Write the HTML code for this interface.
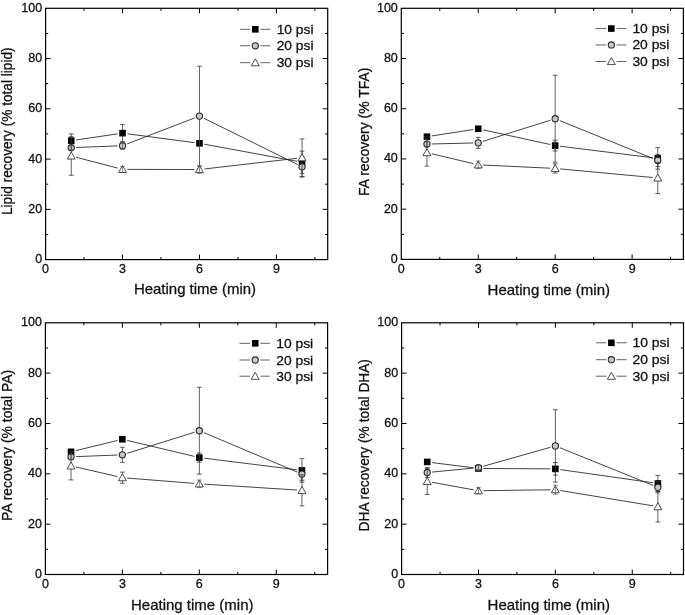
<!DOCTYPE html>
<html lang="en">
<head>
<meta charset="utf-8">
<title>Recovery vs heating time</title>
<style>
html,body{margin:0;padding:0;background:#fff;}
body{width:685px;height:615px;overflow:hidden;}
svg{display:block;}
svg text{font-family:"Liberation Sans", Arial, Helvetica, sans-serif;fill:#111;stroke:#111;stroke-width:0.28px;}
svg{filter:blur(0.4px);}
</style>
</head>
<body>
<svg width="685" height="615" viewBox="0 0 685 615">
<rect width="685" height="615" fill="#fff"/>
<g><path d="M45.6 234.47h2.6M327.7 234.47h-2.6M45.6 209.34h5M327.7 209.34h-5M45.6 184.21h2.6M327.7 184.21h-2.6M45.6 159.08h5M327.7 159.08h-5M45.6 133.95h2.6M327.7 133.95h-2.6M45.6 108.82h5M327.7 108.82h-5M45.6 83.69h2.6M327.7 83.69h-2.6M45.6 58.56h5M327.7 58.56h-5M45.6 33.43h2.6M327.7 33.43h-2.6M84.07 259.6v-2.6M84.07 8.3v2.6M122.54 259.6v-5M122.54 8.3v5M161 259.6v-2.6M161 8.3v2.6M199.47 259.6v-5M199.47 8.3v5M237.94 259.6v-2.6M237.94 8.3v2.6M276.41 259.6v-5M276.41 8.3v5M314.88 259.6v-2.6M314.88 8.3v2.6" fill="none" stroke="#000" stroke-width="1"/>
<text x="42.1" y="263.1" text-anchor="end" font-size="12.5">0</text>
<text x="42.1" y="212.84" text-anchor="end" font-size="12.5">20</text>
<text x="42.1" y="162.58" text-anchor="end" font-size="12.5">40</text>
<text x="42.1" y="112.32" text-anchor="end" font-size="12.5">60</text>
<text x="42.1" y="62.06" text-anchor="end" font-size="12.5">80</text>
<text x="42.1" y="11.8" text-anchor="end" font-size="12.5">100</text>
<text x="45.6" y="273" text-anchor="middle" font-size="12.5">0</text>
<text x="122.54" y="273" text-anchor="middle" font-size="12.5">3</text>
<text x="199.47" y="273" text-anchor="middle" font-size="12.5">6</text>
<text x="276.41" y="273" text-anchor="middle" font-size="12.5">9</text>
<text x="133.9" y="294.4" font-size="14.5" textLength="122.2" lengthAdjust="spacingAndGlyphs">Heating time (min)</text>
<text transform="translate(12.3 215) rotate(-90)" font-size="14" textLength="167.6" lengthAdjust="spacingAndGlyphs">Lipid recovery (% total lipid)</text>
<path d="M76.19 139.95L117.59 133.87M127.49 133.8L194.52 142.65M204.39 144.21L297.14 161.33" fill="none" stroke="#222" stroke-width="0.85"/>
<path d="M71.25 133.9V147.44M68.85 133.9h4.8M68.85 147.44h4.8M122.54 124.62V141.68M120.14 124.62h4.8M120.14 141.68h4.8M302.05 151.08V173.4M299.65 151.08h4.8M299.65 173.4h4.8" fill="none" stroke="#3a3a3a" stroke-width="0.8"/>
<rect x="67.95" y="137.37" width="6.6" height="6.6" fill="#000"/>
<rect x="119.24" y="129.85" width="6.6" height="6.6" fill="#000"/>
<rect x="196.17" y="140.01" width="6.6" height="6.6" fill="#000"/>
<rect x="298.75" y="158.94" width="6.6" height="6.6" fill="#000"/>
<path d="M76.24 147.5L117.54 145.88M127.2 143.89L194.81 117.89M203.96 118.31L297.57 164.54" fill="none" stroke="#222" stroke-width="0.85"/>
<path d="M199.47 66.19V166M197.07 66.19h4.8M197.07 166h4.8M302.05 156.47V177.04M299.65 156.47h4.8M299.65 177.04h4.8" fill="none" stroke="#3a3a3a" stroke-width="0.8"/>
<circle cx="71.25" cy="147.7" r="3.1" fill="#c8c8c8" stroke="#2a2a2a" stroke-width="1.1"/>
<circle cx="122.54" cy="145.69" r="3.1" fill="#c8c8c8" stroke="#2a2a2a" stroke-width="1.1"/>
<circle cx="199.47" cy="116.09" r="3.1" fill="#c8c8c8" stroke="#2a2a2a" stroke-width="1.1"/>
<circle cx="302.05" cy="166.76" r="3.1" fill="#c8c8c8" stroke="#2a2a2a" stroke-width="1.1"/>
<path d="M71.25 145.69V149.7M68.85 145.69h4.8M68.85 149.7h4.8M122.54 141.93V149.45M120.14 141.93h4.8M120.14 149.45h4.8" fill="none" stroke="#444" stroke-width="0.7" opacity="0.85"/>
<path d="M76.08 157.24L117.7 168.12M127.54 169.4L194.47 169.51M204.44 168.94L297.09 158.3" fill="none" stroke="#222" stroke-width="0.85"/>
<path d="M71.25 136.66V175.28M68.85 136.66h4.8M68.85 175.28h4.8M302.05 138.92V176.54M299.65 138.92h4.8M299.65 176.54h4.8" fill="none" stroke="#3a3a3a" stroke-width="0.8"/>
<polygon points="71.25,152.07 75.25,159.07 67.25,159.07" fill="#fff" stroke="#3a3a3a" stroke-width="0.9" stroke-linejoin="miter"/>
<polygon points="122.54,165.49 126.54,172.49 118.54,172.49" fill="#fff" stroke="#3a3a3a" stroke-width="0.9" stroke-linejoin="miter"/>
<polygon points="199.47,165.62 203.47,172.62 195.47,172.62" fill="#fff" stroke="#3a3a3a" stroke-width="0.9" stroke-linejoin="miter"/>
<polygon points="302.05,153.83 306.05,160.83 298.05,160.83" fill="#fff" stroke="#3a3a3a" stroke-width="0.9" stroke-linejoin="miter"/>
<path d="M122.54 166.38V172.4M120.14 166.38h4.8M120.14 172.4h4.8M199.47 165.75V173.28M197.07 165.75h4.8M197.07 173.28h4.8" fill="none" stroke="#444" stroke-width="0.7" opacity="0.85"/>
<rect x="45.6" y="8.3" width="282.1" height="251.3" fill="none" stroke="#000" stroke-width="1.2"/>
<path d="M240 29.3H250.1M260.5 29.3H270.3" stroke="#5a5a5a" stroke-width="0.95" fill="none"/>
<rect x="252" y="26" width="6.6" height="6.6" fill="#000"/>
<text x="276.7" y="33.8" font-size="13" textLength="36.8" lengthAdjust="spacingAndGlyphs">10 psi</text>
<path d="M240 45.8H250.1M260.5 45.8H270.3" stroke="#5a5a5a" stroke-width="0.95" fill="none"/>
<circle cx="255.3" cy="45.8" r="3.1" fill="#c8c8c8" stroke="#2a2a2a" stroke-width="1.1"/>
<text x="276.7" y="50.3" font-size="13" textLength="36.8" lengthAdjust="spacingAndGlyphs">20 psi</text>
<path d="M240 62.7H250.1M260.5 62.7H270.3" stroke="#5a5a5a" stroke-width="0.95" fill="none"/>
<polygon points="255.3,58.8 259.3,65.8 251.3,65.8" fill="#fff" stroke="#3a3a3a" stroke-width="0.9" stroke-linejoin="miter"/>
<text x="276.7" y="67.2" font-size="13" textLength="36.8" lengthAdjust="spacingAndGlyphs">30 psi</text></g>
<g><path d="M401.3 234.29h2.6M683.4 234.29h-2.6M401.3 209.18h5M683.4 209.18h-5M401.3 184.07h2.6M683.4 184.07h-2.6M401.3 158.96h5M683.4 158.96h-5M401.3 133.85h2.6M683.4 133.85h-2.6M401.3 108.74h5M683.4 108.74h-5M401.3 83.63h2.6M683.4 83.63h-2.6M401.3 58.52h5M683.4 58.52h-5M401.3 33.41h2.6M683.4 33.41h-2.6M439.77 259.4v-2.6M439.77 8.3v2.6M478.24 259.4v-5M478.24 8.3v5M516.7 259.4v-2.6M516.7 8.3v2.6M555.17 259.4v-5M555.17 8.3v5M593.64 259.4v-2.6M593.64 8.3v2.6M632.11 259.4v-5M632.11 8.3v5M670.58 259.4v-2.6M670.58 8.3v2.6" fill="none" stroke="#000" stroke-width="1"/>
<text x="397.8" y="262.9" text-anchor="end" font-size="12.5">0</text>
<text x="397.8" y="212.68" text-anchor="end" font-size="12.5">20</text>
<text x="397.8" y="162.46" text-anchor="end" font-size="12.5">40</text>
<text x="397.8" y="112.24" text-anchor="end" font-size="12.5">60</text>
<text x="397.8" y="62.02" text-anchor="end" font-size="12.5">80</text>
<text x="397.8" y="11.8" text-anchor="end" font-size="12.5">100</text>
<text x="401.3" y="272.8" text-anchor="middle" font-size="12.5">0</text>
<text x="478.24" y="272.8" text-anchor="middle" font-size="12.5">3</text>
<text x="555.17" y="272.8" text-anchor="middle" font-size="12.5">6</text>
<text x="632.11" y="272.8" text-anchor="middle" font-size="12.5">9</text>
<text x="487.6" y="295" font-size="14.5" textLength="122.4" lengthAdjust="spacingAndGlyphs">Heating time (min)</text>
<text transform="translate(369.2 196.05) rotate(-90)" font-size="14" textLength="128.55" lengthAdjust="spacingAndGlyphs">FA recovery (% TFA)</text>
<path d="M431.89 135.93L473.29 129.54M483.12 129.85L550.29 144.53M560.13 146.22L652.79 157.78" fill="none" stroke="#222" stroke-width="0.85"/>
<path d="M426.95 135.43V137.94M424.55 135.43h4.8M424.55 137.94h4.8M478.24 127.53V130.04M475.84 127.53h4.8M475.84 130.04h4.8M555.17 140.2V150.99M552.77 140.2h4.8M552.77 150.99h4.8M657.75 147.61V169.19M655.35 147.61h4.8M655.35 169.19h4.8" fill="none" stroke="#3a3a3a" stroke-width="0.8"/>
<rect x="423.65" y="133.39" width="6.6" height="6.6" fill="#000"/>
<rect x="474.94" y="125.48" width="6.6" height="6.6" fill="#000"/>
<rect x="551.87" y="142.3" width="6.6" height="6.6" fill="#000"/>
<rect x="654.45" y="155.1" width="6.6" height="6.6" fill="#000"/>
<path d="M431.94 143.97L473.24 142.96M483.01 141.34L550.4 120.24M559.81 120.62L653.12 158.53" fill="none" stroke="#222" stroke-width="0.85"/>
<path d="M478.24 137.32V148.36M475.84 137.32h4.8M475.84 148.36h4.8M555.17 75.32V162.16M552.77 75.32h4.8M552.77 162.16h4.8M657.75 154.38V166.43M655.35 154.38h4.8M655.35 166.43h4.8" fill="none" stroke="#3a3a3a" stroke-width="0.8"/>
<circle cx="426.95" cy="144.09" r="3.1" fill="#c8c8c8" stroke="#2a2a2a" stroke-width="1.1"/>
<circle cx="478.24" cy="142.84" r="3.1" fill="#c8c8c8" stroke="#2a2a2a" stroke-width="1.1"/>
<circle cx="555.17" cy="118.74" r="3.1" fill="#c8c8c8" stroke="#2a2a2a" stroke-width="1.1"/>
<circle cx="657.75" cy="160.41" r="3.1" fill="#c8c8c8" stroke="#2a2a2a" stroke-width="1.1"/>
<path d="M426.95 141.58V146.6M424.55 141.58h4.8M424.55 146.6h4.8" fill="none" stroke="#444" stroke-width="0.7" opacity="0.85"/>
<path d="M431.81 153.78L473.37 163.64M483.23 165.04L550.18 168.2M560.15 168.9L652.78 177.51" fill="none" stroke="#222" stroke-width="0.85"/>
<path d="M426.95 139.07V166.18M424.55 139.07h4.8M424.55 166.18h4.8M555.17 163.8V173.08M552.77 163.8h4.8M552.77 173.08h4.8M657.75 162.42V193.54M655.35 162.42h4.8M655.35 193.54h4.8" fill="none" stroke="#3a3a3a" stroke-width="0.8"/>
<polygon points="426.95,148.73 430.95,155.73 422.95,155.73" fill="#fff" stroke="#3a3a3a" stroke-width="0.9" stroke-linejoin="miter"/>
<polygon points="478.24,160.9 482.24,167.9 474.24,167.9" fill="#fff" stroke="#3a3a3a" stroke-width="0.9" stroke-linejoin="miter"/>
<polygon points="555.17,164.54 559.17,171.54 551.17,171.54" fill="#fff" stroke="#3a3a3a" stroke-width="0.9" stroke-linejoin="miter"/>
<polygon points="657.75,174.08 661.75,181.08 653.75,181.08" fill="#fff" stroke="#3a3a3a" stroke-width="0.9" stroke-linejoin="miter"/>
<path d="M478.24 161.03V168.56M475.84 161.03h4.8M475.84 168.56h4.8" fill="none" stroke="#444" stroke-width="0.7" opacity="0.85"/>
<rect x="401.3" y="8.3" width="282.1" height="251.1" fill="none" stroke="#000" stroke-width="1.2"/>
<path d="M595.5 28.55H606.15M616.55 28.55H626.4" stroke="#5a5a5a" stroke-width="0.95" fill="none"/>
<rect x="608.05" y="25.25" width="6.6" height="6.6" fill="#000"/>
<text x="632.4" y="33.05" font-size="13" textLength="37" lengthAdjust="spacingAndGlyphs">10 psi</text>
<path d="M595.5 44.95H606.15M616.55 44.95H626.4" stroke="#5a5a5a" stroke-width="0.95" fill="none"/>
<circle cx="611.35" cy="44.95" r="3.1" fill="#c8c8c8" stroke="#2a2a2a" stroke-width="1.1"/>
<text x="632.4" y="49.45" font-size="13" textLength="37" lengthAdjust="spacingAndGlyphs">20 psi</text>
<path d="M595.5 61.5H606.15M616.55 61.5H626.4" stroke="#5a5a5a" stroke-width="0.95" fill="none"/>
<polygon points="611.35,57.6 615.35,64.6 607.35,64.6" fill="#fff" stroke="#3a3a3a" stroke-width="0.9" stroke-linejoin="miter"/>
<text x="632.4" y="66" font-size="13" textLength="37" lengthAdjust="spacingAndGlyphs">30 psi</text></g>
<g><path d="M45.4 549.33h2.6M327.6 549.33h-2.6M45.4 524.16h5M327.6 524.16h-5M45.4 498.99h2.6M327.6 498.99h-2.6M45.4 473.82h5M327.6 473.82h-5M45.4 448.65h2.6M327.6 448.65h-2.6M45.4 423.48h5M327.6 423.48h-5M45.4 398.31h2.6M327.6 398.31h-2.6M45.4 373.14h5M327.6 373.14h-5M45.4 347.97h2.6M327.6 347.97h-2.6M83.88 574.5v-2.6M83.88 322.8v2.6M122.36 574.5v-5M122.36 322.8v5M160.85 574.5v-2.6M160.85 322.8v2.6M199.33 574.5v-5M199.33 322.8v5M237.81 574.5v-2.6M237.81 322.8v2.6M276.29 574.5v-5M276.29 322.8v5M314.77 574.5v-2.6M314.77 322.8v2.6" fill="none" stroke="#000" stroke-width="1"/>
<text x="41.9" y="578" text-anchor="end" font-size="12.5">0</text>
<text x="41.9" y="527.66" text-anchor="end" font-size="12.5">20</text>
<text x="41.9" y="477.32" text-anchor="end" font-size="12.5">40</text>
<text x="41.9" y="426.98" text-anchor="end" font-size="12.5">60</text>
<text x="41.9" y="376.64" text-anchor="end" font-size="12.5">80</text>
<text x="41.9" y="326.3" text-anchor="end" font-size="12.5">100</text>
<text x="45.4" y="587.9" text-anchor="middle" font-size="12.5">0</text>
<text x="122.36" y="587.9" text-anchor="middle" font-size="12.5">3</text>
<text x="199.33" y="587.9" text-anchor="middle" font-size="12.5">6</text>
<text x="276.29" y="587.9" text-anchor="middle" font-size="12.5">9</text>
<text x="131" y="609.9" font-size="14.5" textLength="122.5" lengthAdjust="spacingAndGlyphs">Heating time (min)</text>
<text transform="translate(12.4 520.9) rotate(-90)" font-size="14" textLength="151" lengthAdjust="spacingAndGlyphs">PA recovery (% total PA)</text>
<path d="M75.91 450.63L117.51 440.45M127.23 440.42L194.46 456.43M204.29 458.2L296.98 469.77" fill="none" stroke="#222" stroke-width="0.85"/>
<path d="M71.05 450.56V453.07M68.65 450.56h4.8M68.65 453.07h4.8M122.36 438.01V440.52M119.96 438.01h4.8M119.96 440.52h4.8M199.33 453.07V462.1M196.93 453.07h4.8M196.93 462.1h4.8M301.95 458.59V482.18M299.55 458.59h4.8M299.55 482.18h4.8" fill="none" stroke="#3a3a3a" stroke-width="0.8"/>
<rect x="67.75" y="448.51" width="6.6" height="6.6" fill="#000"/>
<rect x="119.06" y="435.96" width="6.6" height="6.6" fill="#000"/>
<rect x="196.03" y="454.29" width="6.6" height="6.6" fill="#000"/>
<rect x="298.65" y="467.09" width="6.6" height="6.6" fill="#000"/>
<path d="M76.05 456.64L117.37 455.02M127.14 453.33L194.56 432.22M203.93 432.67L297.34 472.08" fill="none" stroke="#222" stroke-width="0.85"/>
<path d="M122.36 447.29V462.35M119.96 447.29h4.8M119.96 462.35h4.8M199.33 387.31V474.15M196.93 387.31h4.8M196.93 474.15h4.8M301.95 467.75V480.3M299.55 467.75h4.8M299.55 480.3h4.8" fill="none" stroke="#3a3a3a" stroke-width="0.8"/>
<circle cx="71.05" cy="456.83" r="3.1" fill="#c8c8c8" stroke="#2a2a2a" stroke-width="1.1"/>
<circle cx="122.36" cy="454.82" r="3.1" fill="#c8c8c8" stroke="#2a2a2a" stroke-width="1.1"/>
<circle cx="199.33" cy="430.73" r="3.1" fill="#c8c8c8" stroke="#2a2a2a" stroke-width="1.1"/>
<circle cx="301.95" cy="474.03" r="3.1" fill="#c8c8c8" stroke="#2a2a2a" stroke-width="1.1"/>
<path d="M71.05 454.32V459.34M68.65 454.32h4.8M68.65 459.34h4.8" fill="none" stroke="#444" stroke-width="0.7" opacity="0.85"/>
<path d="M75.93 466.99L117.49 476.55M127.35 478.06L194.34 483.42M204.32 484.13L296.96 490.02" fill="none" stroke="#222" stroke-width="0.85"/>
<path d="M71.05 451.81V479.92M68.65 451.81h4.8M68.65 479.92h4.8M122.36 472.14V483.19M119.96 472.14h4.8M119.96 483.19h4.8M301.95 474.78V505.9M299.55 474.78h4.8M299.55 505.9h4.8" fill="none" stroke="#3a3a3a" stroke-width="0.8"/>
<polygon points="71.05,461.97 75.05,468.97 67.05,468.97" fill="#fff" stroke="#3a3a3a" stroke-width="0.9" stroke-linejoin="miter"/>
<polygon points="122.36,473.77 126.36,480.77 118.36,480.77" fill="#fff" stroke="#3a3a3a" stroke-width="0.9" stroke-linejoin="miter"/>
<polygon points="199.33,479.92 203.33,486.92 195.33,486.92" fill="#fff" stroke="#3a3a3a" stroke-width="0.9" stroke-linejoin="miter"/>
<polygon points="301.95,486.44 305.95,493.44 297.95,493.44" fill="#fff" stroke="#3a3a3a" stroke-width="0.9" stroke-linejoin="miter"/>
<path d="M199.33 480.05V487.58M196.93 480.05h4.8M196.93 487.58h4.8" fill="none" stroke="#444" stroke-width="0.7" opacity="0.85"/>
<rect x="45.4" y="322.8" width="282.2" height="251.7" fill="none" stroke="#000" stroke-width="1.2"/>
<path d="M239.5 343.3H250M260.4 343.3H269.8" stroke="#5a5a5a" stroke-width="0.95" fill="none"/>
<rect x="251.9" y="340" width="6.6" height="6.6" fill="#000"/>
<text x="276.2" y="347.8" font-size="13" textLength="37" lengthAdjust="spacingAndGlyphs">10 psi</text>
<path d="M239.5 360H250M260.4 360H269.8" stroke="#5a5a5a" stroke-width="0.95" fill="none"/>
<circle cx="255.2" cy="360" r="3.1" fill="#c8c8c8" stroke="#2a2a2a" stroke-width="1.1"/>
<text x="276.2" y="364.5" font-size="13" textLength="37" lengthAdjust="spacingAndGlyphs">20 psi</text>
<path d="M239.5 376.2H250M260.4 376.2H269.8" stroke="#5a5a5a" stroke-width="0.95" fill="none"/>
<polygon points="255.2,372.3 259.2,379.3 251.2,379.3" fill="#fff" stroke="#3a3a3a" stroke-width="0.9" stroke-linejoin="miter"/>
<text x="276.2" y="380.7" font-size="13" textLength="37" lengthAdjust="spacingAndGlyphs">30 psi</text></g>
<g><path d="M401.6 549.33h2.6M683.5 549.33h-2.6M401.6 524.16h5M683.5 524.16h-5M401.6 498.99h2.6M683.5 498.99h-2.6M401.6 473.82h5M683.5 473.82h-5M401.6 448.65h2.6M683.5 448.65h-2.6M401.6 423.48h5M683.5 423.48h-5M401.6 398.31h2.6M683.5 398.31h-2.6M401.6 373.14h5M683.5 373.14h-5M401.6 347.97h2.6M683.5 347.97h-2.6M440.04 574.5v-2.6M440.04 322.8v2.6M478.48 574.5v-5M478.48 322.8v5M516.92 574.5v-2.6M516.92 322.8v2.6M555.36 574.5v-5M555.36 322.8v5M593.8 574.5v-2.6M593.8 322.8v2.6M632.25 574.5v-5M632.25 322.8v5M670.69 574.5v-2.6M670.69 322.8v2.6" fill="none" stroke="#000" stroke-width="1"/>
<text x="398.1" y="578" text-anchor="end" font-size="12.5">0</text>
<text x="398.1" y="527.66" text-anchor="end" font-size="12.5">20</text>
<text x="398.1" y="477.32" text-anchor="end" font-size="12.5">40</text>
<text x="398.1" y="426.98" text-anchor="end" font-size="12.5">60</text>
<text x="398.1" y="376.64" text-anchor="end" font-size="12.5">80</text>
<text x="398.1" y="326.3" text-anchor="end" font-size="12.5">100</text>
<text x="401.6" y="587.9" text-anchor="middle" font-size="12.5">0</text>
<text x="478.48" y="587.9" text-anchor="middle" font-size="12.5">3</text>
<text x="555.36" y="587.9" text-anchor="middle" font-size="12.5">6</text>
<text x="632.25" y="587.9" text-anchor="middle" font-size="12.5">9</text>
<text x="487.6" y="609.9" font-size="14.5" textLength="122.4" lengthAdjust="spacingAndGlyphs">Heating time (min)</text>
<text transform="translate(369 531.45) rotate(-90)" font-size="14" textLength="172.4" lengthAdjust="spacingAndGlyphs">DHA recovery (% total DHA)</text>
<path d="M432.19 462.58L473.52 467.83M483.48 468.48L550.36 468.85M560.31 469.58L652.92 482.74" fill="none" stroke="#222" stroke-width="0.85"/>
<path d="M427.23 460.7V463.21M424.83 460.7h4.8M424.83 463.21h4.8M478.48 467.2V469.71M476.08 467.2h4.8M476.08 469.71h4.8M555.36 462.61V475.16M552.96 462.61h4.8M552.96 475.16h4.8M657.87 475.41V491.47M655.47 475.41h4.8M655.47 491.47h4.8" fill="none" stroke="#3a3a3a" stroke-width="0.8"/>
<rect x="423.93" y="458.65" width="6.6" height="6.6" fill="#000"/>
<rect x="475.18" y="465.15" width="6.6" height="6.6" fill="#000"/>
<rect x="552.06" y="465.58" width="6.6" height="6.6" fill="#000"/>
<rect x="654.57" y="480.14" width="6.6" height="6.6" fill="#000"/>
<path d="M432.2 472.05L473.5 468.1M483.29 466.27L550.55 447.27M560 447.79L653.24 485.46" fill="none" stroke="#222" stroke-width="0.85"/>
<path d="M427.23 467.5V477.54M424.83 467.5h4.8M424.83 477.54h4.8M555.36 409.77V482.06M552.96 409.77h4.8M552.96 482.06h4.8M657.87 481.81V492.85M655.47 481.81h4.8M655.47 492.85h4.8" fill="none" stroke="#3a3a3a" stroke-width="0.8"/>
<circle cx="427.23" cy="472.52" r="3.1" fill="#c8c8c8" stroke="#2a2a2a" stroke-width="1.1"/>
<circle cx="478.48" cy="467.63" r="3.1" fill="#c8c8c8" stroke="#2a2a2a" stroke-width="1.1"/>
<circle cx="555.36" cy="445.91" r="3.1" fill="#c8c8c8" stroke="#2a2a2a" stroke-width="1.1"/>
<circle cx="657.87" cy="487.33" r="3.1" fill="#c8c8c8" stroke="#2a2a2a" stroke-width="1.1"/>
<path d="M478.48 465.62V469.63M476.08 465.62h4.8M476.08 469.63h4.8" fill="none" stroke="#444" stroke-width="0.7" opacity="0.85"/>
<path d="M432.15 482.32L473.56 489.83M483.48 490.65L550.36 489.78M560.3 490.53L652.94 505.84" fill="none" stroke="#222" stroke-width="0.85"/>
<path d="M427.23 468.38V494.48M424.83 468.38h4.8M424.83 494.48h4.8M657.87 491.35V521.97M655.47 491.35h4.8M655.47 521.97h4.8" fill="none" stroke="#3a3a3a" stroke-width="0.8"/>
<polygon points="427.23,477.53 431.23,484.53 423.23,484.53" fill="#fff" stroke="#3a3a3a" stroke-width="0.9" stroke-linejoin="miter"/>
<polygon points="478.48,486.82 482.48,493.82 474.48,493.82" fill="#fff" stroke="#3a3a3a" stroke-width="0.9" stroke-linejoin="miter"/>
<polygon points="555.36,485.81 559.36,492.81 551.36,492.81" fill="#fff" stroke="#3a3a3a" stroke-width="0.9" stroke-linejoin="miter"/>
<polygon points="657.87,502.76 661.87,509.76 653.87,509.76" fill="#fff" stroke="#3a3a3a" stroke-width="0.9" stroke-linejoin="miter"/>
<path d="M478.48 487.71V493.73M476.08 487.71h4.8M476.08 493.73h4.8M555.36 485.2V494.23M552.96 485.2h4.8M552.96 494.23h4.8" fill="none" stroke="#444" stroke-width="0.7" opacity="0.85"/>
<rect x="401.6" y="322.8" width="281.9" height="251.7" fill="none" stroke="#000" stroke-width="1.2"/>
<path d="M596 342.8H606.2M616.6 342.8H626.7" stroke="#5a5a5a" stroke-width="0.95" fill="none"/>
<rect x="608.1" y="339.5" width="6.6" height="6.6" fill="#000"/>
<text x="632.4" y="347.3" font-size="13" textLength="37.2" lengthAdjust="spacingAndGlyphs">10 psi</text>
<path d="M596 359.7H606.2M616.6 359.7H626.7" stroke="#5a5a5a" stroke-width="0.95" fill="none"/>
<circle cx="611.4" cy="359.7" r="3.1" fill="#c8c8c8" stroke="#2a2a2a" stroke-width="1.1"/>
<text x="632.4" y="364.2" font-size="13" textLength="37.2" lengthAdjust="spacingAndGlyphs">20 psi</text>
<path d="M596 376.2H606.2M616.6 376.2H626.7" stroke="#5a5a5a" stroke-width="0.95" fill="none"/>
<polygon points="611.4,372.3 615.4,379.3 607.4,379.3" fill="#fff" stroke="#3a3a3a" stroke-width="0.9" stroke-linejoin="miter"/>
<text x="632.4" y="380.7" font-size="13" textLength="37.2" lengthAdjust="spacingAndGlyphs">30 psi</text></g>
</svg>
</body>
</html>
